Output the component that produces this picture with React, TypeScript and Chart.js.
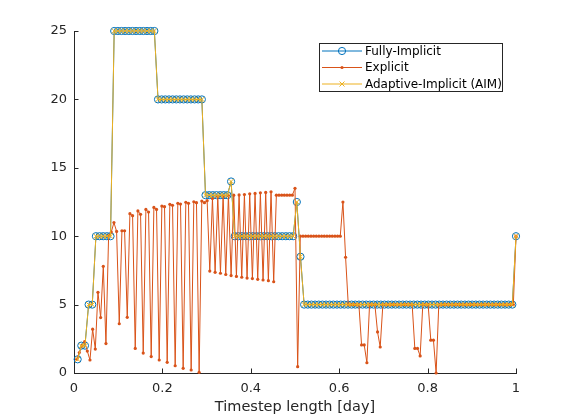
import React, { useEffect, useRef } from 'react';
import { Chart, registerables } from 'chart.js';

Chart.register(...registerables);

// ---- data (timestep length in days, in step order) ----
const fullyImplicitDt = [
  1, 2, 2, 5, 5, 10, 10, 10, 10, 10,
  25, 25, 25, 25, 25, 25, 25, 25, 25, 25, 25, 25,
  20, 20, 20, 20, 20, 20, 20, 20, 20, 20, 20, 20, 20,
  13, 13, 13, 13, 13, 13, 13,
  14,
  10, 10, 10, 10, 10, 10, 10, 10, 10, 10, 10, 10, 10, 10, 10, 10, 10,
  12.5, 8.5,
  5, 5, 5, 5, 5, 5, 5, 5, 5, 5,
  5, 5, 5, 5, 5, 5, 5, 5, 5, 5,
  5, 5, 5, 5, 5, 5, 5, 5, 5, 5,
  5, 5, 5, 5, 5, 5, 5, 5, 5, 5,
  5, 5, 5, 5, 5, 5, 5, 5, 5, 5,
  5, 5, 5, 5, 5, 5, 5, 5,
  10,
];

const explicitDt = [
  1.0, 1.5, 2.0, 2.3, 1.6, 0.95, 3.2, 1.75, 5.9, 4.05, 7.8, 2.15, 10.05,
  10.3, 11.0, 10.35, 3.6, 10.4, 10.4, 4.07,
  11.65, 11.5, 1.8, 11.85, 11.6, 1.46, 11.96, 11.77, 1.2, 12.1,
  11.96, 0.95, 12.2, 12.16, 0.78, 12.33, 12.26, 0.53, 12.4, 12.35,
  0.34, 12.48, 12.4, 0.22, 12.52, 12.45, 0.05, 12.57, 12.45, 12.6,
  7.45, 12.75, 7.36, 12.9, 7.29, 12.95, 7.2, 12.97, 7.12, 13.0,
  7.06, 13.02, 7.0, 13.05, 6.94, 13.1, 6.9, 13.13, 6.85, 13.17,
  6.8, 13.2, 6.75, 13.25, 6.67,
  13.0, 13.0, 13.0, 13.0, 13.0, 13.0, 13.0,
  13.5, 0.46,
  10, 10, 10, 10, 10, 10, 10, 10, 10, 10, 10, 10, 10, 10, 10, 10,
  12.5, 8.46,
  5, 5, 5, 5, 5,
  2.05, 2.05, 0.75,
  5, 5, 5,
  3.0, 1.9,
  5, 5, 5, 5, 5, 5, 5, 5, 5, 5, 5, 5,
  1.8, 1.8, 1.25,
  5, 5, 5,
  2.4, 2.4, 0.0,
  5, 5, 5, 5, 5, 5, 5, 5, 5, 5,
  5, 5, 5, 5, 5, 5, 5, 5, 5, 5,
  5, 5, 5, 5, 5, 5, 5, 5, 5,
  10,
];

const aimDt = [
  1, 2, 2, 5, 5, 10, 10, 10, 10, 10,
  25, 25, 25, 25, 25, 25, 25, 25, 25, 25, 25, 25,
  20, 20, 20, 20, 20, 20, 20, 20, 20, 20, 20, 20, 20,
  13, 13, 13, 13, 13, 13, 13,
  14,
  10, 10, 10, 10, 10, 10, 10, 10, 10, 10, 10, 10, 10, 10, 10, 10, 10,
  12.5, 8.5,
  5, 5, 5, 5, 5, 5, 5, 5, 5, 5,
  5, 5, 5, 5, 5, 5, 5, 5, 5, 5,
  5, 5, 5, 5, 5, 5, 5, 5, 5, 5,
  5, 5, 5, 5, 5, 5, 5, 5, 5, 5,
  5, 5, 5, 5, 5, 5, 5, 5, 5, 5,
  5, 5, 5, 5, 5, 5, 5, 5,
  10,
];

const seriesNames = ['Fully-Implicit', 'Explicit', 'Adaptive-Implicit (AIM)'];
const xTickValues = [0, 0.2, 0.4, 0.6, 0.8, 1];
const xTickLabels = ['0', '0.2', '0.4', '0.6', '0.8', '1'];
const yTickValues = [0, 5, 10, 15, 20, 25];
const yTickLabels = ['0', '5', '10', '15', '20', '25'];
const xAxisTitle = 'Timestep length [day]';

// ---- styles ----
const BLUE = '#0072BD';
const ORANGE = '#D95319';
const YELLOW = '#EDB120';
const AXIS = '#262626';
const FONT = 'DejaVu Sans';

// points are placed at step index / number of steps
const toPoints = (arr: number[]) => arr.map((v, i) => ({ x: (i + 1) / arr.length, y: v }));

const decorPlugin = {
  id: 'decor',
  afterDraw(chart: any) {
    const ctx = chart.ctx as CanvasRenderingContext2D;
    const xs = chart.scales.x;
    const ys = chart.scales.y;
    const { left, bottom } = chart.chartArea;
    ctx.save();
    // inward ticks
    ctx.strokeStyle = AXIS;
    ctx.lineWidth = 1;
    ctx.beginPath();
    xs.ticks.forEach((t: any) => {
      const px = Math.round(xs.getPixelForValue(t.value)) + 0.5;
      ctx.moveTo(px, bottom);
      ctx.lineTo(px, bottom - 4.5);
    });
    ys.ticks.forEach((t: any) => {
      const py = Math.round(ys.getPixelForValue(t.value)) + 0.5;
      ctx.moveTo(left, py);
      ctx.lineTo(left + 4.5, py);
    });
    ctx.stroke();

    // legend box
    const bx = 319.5, by = 43.5, bw = 183, bh = 48;
    ctx.fillStyle = '#ffffff';
    ctx.fillRect(bx, by, bw, bh);
    ctx.strokeStyle = AXIS;
    ctx.lineWidth = 1;
    ctx.strokeRect(bx, by, bw, bh);
    const rows = [51, 67.5, 84];
    const ds = chart.data.datasets;
    ctx.font = `12px "${FONT}"`;
    ctx.textBaseline = 'middle';
    ctx.textAlign = 'left';
    ds.forEach((d: any, k: number) => {
      const y = rows[k];
      ctx.strokeStyle = d.borderColor;
      ctx.lineWidth = 1;
      ctx.beginPath();
      ctx.moveTo(322, y);
      ctx.lineTo(362, y);
      ctx.stroke();
      const mx = 342;
      if (d.pointStyle === 'circle' && d.pointBackgroundColor === 'rgba(0,0,0,0)') {
        ctx.fillStyle = '#ffffff';
        ctx.beginPath();
        ctx.arc(mx, y, 3.6, 0, Math.PI * 2);
        ctx.stroke();
      } else if (d.pointStyle === 'crossRot') {
        ctx.beginPath();
        ctx.moveTo(mx - 2.5, y - 2.5);
        ctx.lineTo(mx + 2.5, y + 2.5);
        ctx.moveTo(mx - 2.5, y + 2.5);
        ctx.lineTo(mx + 2.5, y - 2.5);
        ctx.stroke();
      } else {
        ctx.fillStyle = d.borderColor;
        ctx.beginPath();
        ctx.arc(mx, y, 1.6, 0, Math.PI * 2);
        ctx.fill();
      }
      ctx.fillStyle = '#000000';
      ctx.fillText(d.label, 365, y + 0.5);
    });
    ctx.restore();
  },
};

export default function App() {
  const ref = useRef<HTMLCanvasElement>(null);

  useEffect(() => {
    if (!ref.current) return;
    Chart.defaults.font.family = FONT;
    const chart = new Chart(ref.current, {
      type: 'line',
      data: {
        datasets: [
          {
            label: seriesNames[0],
            data: toPoints(fullyImplicitDt),
            borderColor: BLUE,
            borderWidth: 1,
            pointStyle: 'circle',
            pointRadius: 3.6,
            pointBorderWidth: 1,
            pointBorderColor: BLUE,
            pointBackgroundColor: 'rgba(0,0,0,0)',
            order: 3,
            clip: false,
          } as any,
          {
            label: seriesNames[1],
            data: toPoints(explicitDt),
            borderColor: ORANGE,
            borderWidth: 1,
            pointStyle: 'circle',
            pointRadius: 1.6,
            pointBorderWidth: 0,
            pointBackgroundColor: ORANGE,
            order: 2,
            clip: false,
          } as any,
          {
            label: seriesNames[2],
            data: toPoints(aimDt),
            borderColor: YELLOW,
            borderWidth: 1,
            pointStyle: 'crossRot',
            pointRadius: 3.5,
            pointBorderWidth: 1,
            pointBorderColor: YELLOW,
            pointBackgroundColor: YELLOW,
            order: 1,
            clip: false,
          } as any,
        ],
      },
      options: {
        responsive: false,
        animation: false,
        events: [],
        layout: { padding: { left: 0, top: 31, right: 54, bottom: 0 } },
        plugins: { legend: { display: false }, tooltip: { enabled: false } },
        elements: { line: { tension: 0 } },
        scales: {
          x: {
            type: 'linear',
            min: 0,
            max: 1,
            afterBuildTicks: (s: any) => { s.ticks = xTickValues.map((v) => ({ value: v })); },
            afterFit: (s: any) => { s.height = 47; },
            ticks: {
              color: AXIS,
              font: { family: FONT, size: 13 },
              padding: 8,
              maxRotation: 0,
              autoSkip: false,
              callback: (_v: any, i: number) => xTickLabels[i],
            },
            grid: { display: false, drawTicks: false, tickLength: 0 },
            border: { display: true, color: AXIS, width: 1 },
            title: {
              display: true,
              text: xAxisTitle,
              color: AXIS,
              font: { family: FONT, size: 14.5 },
              padding: { top: 0, bottom: 4 },
            },
          },
          y: {
            type: 'linear',
            min: 0,
            max: 25,
            afterBuildTicks: (s: any) => { s.ticks = yTickValues.map((v) => ({ value: v })); },
            afterFit: (s: any) => { s.width = 74; },
            ticks: {
              color: AXIS,
              font: { family: FONT, size: 13 },
              padding: 7,
              autoSkip: false,
              callback: (_v: any, i: number) => yTickLabels[i],
            },
            grid: { display: false, drawTicks: false, tickLength: 0 },
            border: { display: true, color: AXIS, width: 1 },
          },
        },
      } as any,
      plugins: [decorPlugin],
    });
    return () => chart.destroy();
  }, []);

  return (
    <div style={{ position: 'fixed', left: 0, top: 0, width: 570, height: 420, background: '#ffffff' }}>
      <canvas ref={ref} width={570} height={420} style={{ width: 570, height: 420, display: 'block' }} />
    </div>
  );
}
